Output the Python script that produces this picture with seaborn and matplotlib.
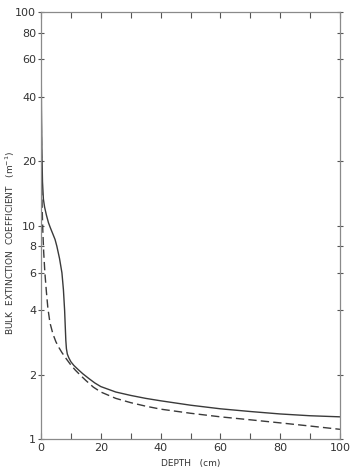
import matplotlib
matplotlib.use("Agg")
import matplotlib.pyplot as plt
import seaborn as sns
from matplotlib.ticker import FixedLocator, NullLocator, NullFormatter

# Data
solid_depth = [0, 0.05, 0.15, 0.3, 0.5, 0.8, 1.2, 1.8, 2.5, 3.2, 4.0, 4.7, 5.3, 6.2,
               7.0, 7.5, 7.9, 8.1, 8.3, 8.5, 8.8, 9.3, 10, 11, 12.5, 14, 16, 18,
               20, 25, 30, 35, 40, 50, 60, 70, 80, 90, 100]
solid_k = [100, 60, 35, 22, 16, 13.3, 12.2, 11.2, 10.3, 9.7, 9.1, 8.6, 8.0, 7.0,
           6.0, 5.0, 4.0, 3.4, 2.9, 2.65, 2.5, 2.4, 2.3, 2.21, 2.11, 2.02, 1.92, 1.83,
           1.76, 1.66, 1.6, 1.55, 1.51, 1.44, 1.385, 1.345, 1.31, 1.285, 1.27]

dashed_depth = [0, 0.03, 0.08, 0.15, 0.25, 0.4, 0.6, 0.9, 1.3, 1.8, 2.3, 3.0, 4.0,
                5.0, 6.0, 7.0, 8.5, 10, 11.5, 13, 15, 17.5, 20, 25, 30, 35, 40,
                50, 60, 70, 80, 90, 100]
dashed_k = [100, 60, 35, 22, 15, 11.9, 9.5, 7.5, 6.0, 4.9, 4.1, 3.5, 3.1,
            2.85, 2.68, 2.54, 2.37, 2.22, 2.1, 2.0, 1.88, 1.75, 1.66, 1.55, 1.48, 1.425, 1.38,
            1.32, 1.27, 1.23, 1.19, 1.15, 1.11]

y_ticks = [1, 2, 4, 6, 8, 10, 20, 40, 60, 80, 100]
y_tick_labels = ["1", "2", "4", "6", "8", "10", "20", "40", "60", "80", "100"]
x_ticks = [0, 20, 40, 60, 80, 100]
x_minor = [10, 30, 50, 70, 90]

sns.set_theme(style="white")
plt.rcParams["font.family"] = ["DejaVu Sans"]

fig = plt.figure(figsize=(3.5, 4.69), dpi=100)
ax = fig.add_axes([41/350, 1 - 439/469, (340 - 41)/350, (439 - 12)/469])

line_col = "#3a3a3a"
sns.lineplot(x=solid_depth, y=solid_k, ax=ax, color=line_col, lw=1.0,
             linestyle="-", sort=False, estimator=None)
sns.lineplot(x=dashed_depth, y=dashed_k, ax=ax, color=line_col, lw=1.0,
             linestyle=(0, (6, 3)), sort=False, estimator=None)

ax.set_yscale("log")
ax.set_xlim(0, 100)
ax.set_ylim(1, 100)

ax.yaxis.set_major_locator(FixedLocator(y_ticks))
ax.set_yticklabels(y_tick_labels)
ax.yaxis.set_minor_locator(NullLocator())
ax.yaxis.set_minor_formatter(NullFormatter())
ax.set_xticks(x_ticks)
ax.set_xticklabels([str(v) for v in x_ticks])
ax.xaxis.set_minor_locator(FixedLocator(x_minor))

spine_col = "#8a8a8a"
for s in ax.spines.values():
    s.set_color(spine_col)
    s.set_linewidth(0.9)
    s.set_visible(True)

ax.tick_params(axis="y", which="major", left=True, right=True, direction="inout",
               length=5, width=0.8, color="#555555", labelsize=8, labelcolor="#333333", pad=1)
ax.tick_params(axis="x", which="both", bottom=True, top=True, direction="in",
               length=4, width=0.8, color="#555555", labelsize=8, labelcolor="#333333", pad=3)

ax.set_xlabel("DEPTH   (cm)", fontsize=6.5, color="#333333", labelpad=4)
ax.set_ylabel("BULK  EXTINCTION  COEFFICIENT   (m$^{-1}$)", fontsize=6.5, color="#333333")
ax.yaxis.set_label_coords(-0.08, 0.46)
ax.grid(False)

fig.savefig("out.png", dpi=100, facecolor="white")
